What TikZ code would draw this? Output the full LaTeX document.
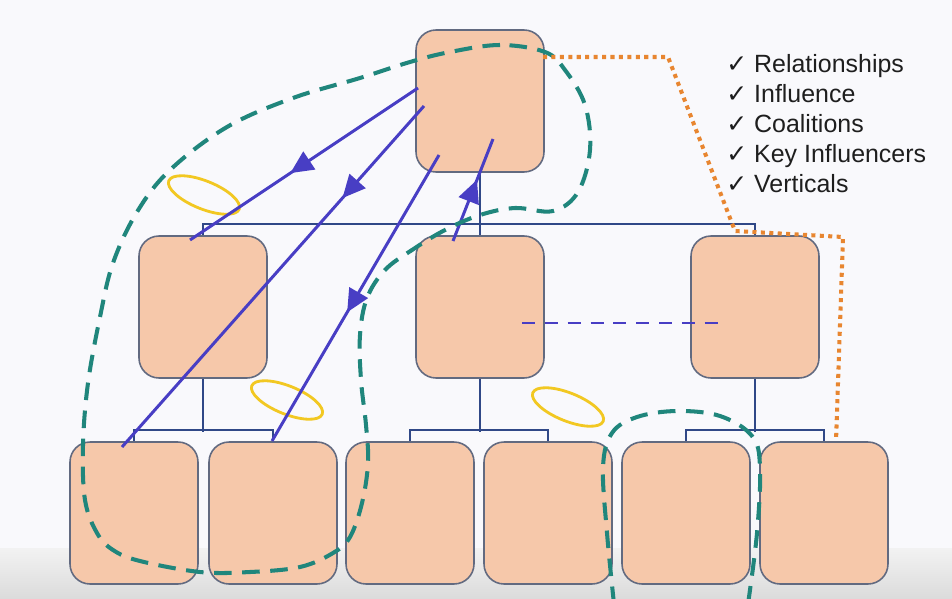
\documentclass[tikz,border=0pt]{standalone}
\usepackage{fontspec}
\setmainfont{Liberation Sans}
\newfontfamily\simbolos{DejaVu Sans}
\usetikzlibrary{arrows.meta,decorations.markings}

\definecolor{fondo}{RGB}{249,249,252}
\definecolor{durazno}{RGB}{246,200,170}
\definecolor{borde}{RGB}{98,106,128}
\definecolor{rama}{RGB}{48,72,135}
\definecolor{flecha}{RGB}{72,62,196}
\definecolor{verdeazul}{RGB}{32,134,124}
\definecolor{naranja}{RGB}{232,134,48}
\definecolor{amarillo}{RGB}{242,200,34}
\definecolor{texto}{RGB}{30,30,30}

\tikzset{
  caja/.style={draw=borde, line width=0.9pt, fill=durazno, rounded corners=0.4cm,
    minimum width=2.56cm, minimum height=2.84cm, inner sep=0pt},
  rama/.style={draw=rama, line width=1.1pt},
  influye/.style={flecha, line width=1.7pt, postaction={decorate},
    decoration={markings, mark=at position #1 with {\arrow{Triangle[length=13pt,width=12pt]}}}},
  grupo/.style={verdeazul, line width=2.3pt, dash pattern=on 10pt off 6pt},
  aro/.style={amarillo, line width=1.6pt},
  punteado/.style={naranja, line width=2.3pt, dash pattern=on 2.3pt off 2.5pt},
  lista/.style={anchor=base west, inner sep=0pt, text=texto, font=\fontsize{14.2}{17}\selectfont}
}

\begin{document}
\begin{tikzpicture}[x=0.02cm, y=-0.02cm]
  % Fondo
  \fill[fondo] (0,0) rectangle (952,598);
  \useasboundingbox (0,0) rectangle (952,598);
  \shade[top color=gray!10, bottom color=gray!28] (0,548) rectangle (952,598);

  % Cajas
  \node[caja] (jefe) at (480,101) {};
  \node[caja] (m1) at (203,307) {};
  \node[caja] (m2) at (480,307) {};
  \node[caja] (m3) at (755,307) {};
  \foreach \x [count=\i] in {134,273,410,548,686,824}
    \node[caja] (b\i) at (\x,513) {};

  % Ramas del organigrama
  \coordinate (bus) at (480,224);
  \draw[rama] (jefe.south) -- (bus) -- (m2.north);
  \draw[rama] (m1.north) -- (m1.north |- bus) -- (m3.north |- bus) -- (m3.north);
  \foreach \m/\a/\b in {m1/b1/b2, m2/b3/b4, m3/b5/b6} {
    \draw[rama] (\m.south) -- ++(0,53);
    \draw[rama] (\a.north) -- ++(0,-11) -| (\b.north);
  }

  % Aros amarillos
  \foreach \c in {(204,195), (287,400), (568,407)}
    \draw[aro, rotate around={-22:\c}] \c ellipse [x radius=0.76cm, y radius=0.28cm];

  % Flechas de influencia
  \coordinate (s1) at (418,88);  \coordinate (e1) at (190,240);
  \coordinate (s2) at (424,106); \coordinate (e2) at (122,447);
  \coordinate (s3) at (439,155); \coordinate (e3) at (272,441);
  \coordinate (s4) at (453,241); \coordinate (e4) at (493,139);
  \draw[influye=0.56] (s1) -- (e1);
  \draw[influye=0.27] (s2) -- (e2);
  \draw[influye=0.55] (s3) -- (e3);
  \draw[influye=0.6] (s4) -- (e4);
  \coordinate (d1) at (522,323); \coordinate (d2) at (722,323);
  \draw[flecha, line width=1.7pt, dash pattern=on 7.4pt off 5.6pt] (d1) -- (d2);

  % Coaliciones
  \draw[grupo] plot[smooth cycle, tension=0.6] coordinates {
    (545,52) (500,45) (450,52) (410,62) (360,78) (293,98) (227,127) (170,170)
    (137,212) (113,263) (100,317) (88,383) (83,445) (85,500) (97,533) (113,550)
    (140,561) (200,572) (250,572) (300,567) (333,553) (350,537) (362,503)
    (368,463) (366,425) (361,380) (360,335) (367,298) (385,270) (412,250)
    (445,230) (480,215) (515,208) (553,211) (578,192) (590,150) (585,105) (565,70)};
  \draw[grupo] plot[smooth, tension=0.6] coordinates {
    (614,604) (607,533) (603,467) (612,433) (637,417) (677,411) (720,416)
    (752,436) (760,467) (757,533) (748,604)};

  % Verticales
  \coordinate (v0) at (543,57);
  \coordinate (v1) at (668,57);
  \coordinate (v2) at (735,231);
  \coordinate (v3) at (843,237);
  \coordinate (v4) at (836,441);
  \draw[punteado] (v0) -- (v1) -- (v2) -- (v3) -- (v4);

  % Lista
  \foreach \t [count=\i] in {Relationships, Influence, Coalitions, Key Influencers, Verticals}
    \node[lista] (l\i) at (726,42+30*\i) {{\simbolos ✓}\ \t};
\end{tikzpicture}
\end{document}
